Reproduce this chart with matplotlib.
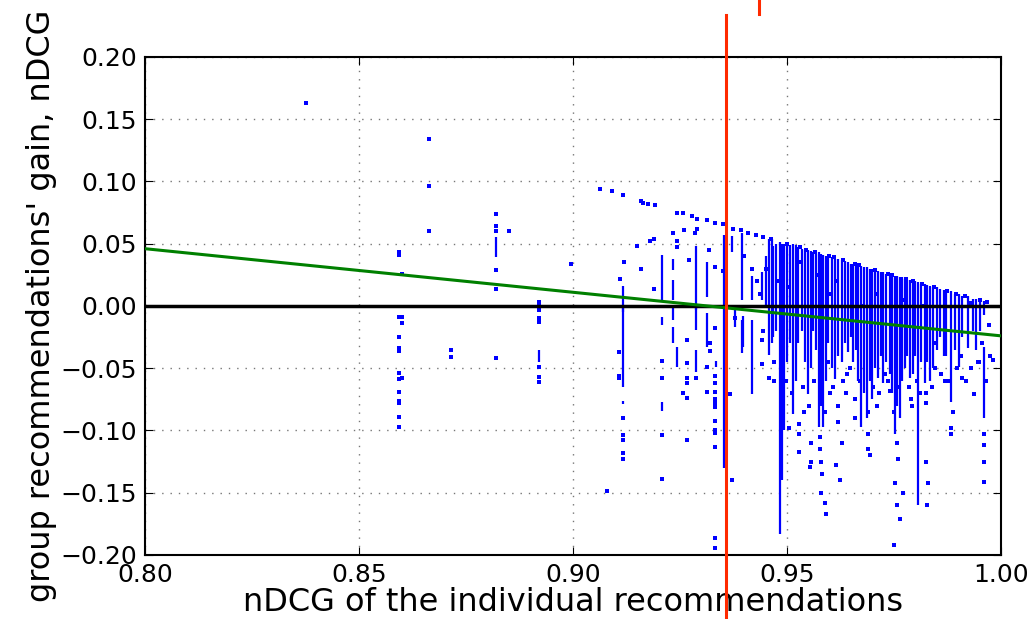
import numpy as np
import matplotlib
matplotlib.use("Agg")
import matplotlib.pyplot as plt

# isolated points (nDCG individual, gain of group recs)
dot_x = [0.8376, 0.8664, 0.8664, 0.8664,
         0.8593, 0.8593, 0.8600, 0.8593, 0.8600, 0.8600, 0.8593, 0.8593, 0.8593, 0.8593, 0.8593,
         0.8600, 0.8593, 0.8593, 0.8593, 0.8593, 0.8593,
         0.8714, 0.8714,
         0.8820, 0.8820, 0.8820, 0.8820, 0.8820, 0.8820, 0.8850,
         0.8920, 0.8920, 0.8920, 0.8920, 0.8920, 0.8920, 0.8920, 0.8920,
         0.8996,
         0.9063, 0.9091, 0.9117, 0.9159, 0.9163, 0.9175, 0.9192, 0.9243, 0.9257, 0.9278, 0.9290,
         0.9313, 0.9332, 0.9350,
         0.9234, 0.9260, 0.9285, 0.9290, 0.9180, 0.9190, 0.9150, 0.9243, 0.9243, 0.9120, 0.9110,
         0.9160, 0.9190, 0.9107, 0.9107, 0.9107, 0.9118, 0.9118, 0.9118, 0.9118, 0.9118, 0.9080,
         0.9207, 0.9207, 0.9207, 0.9207, 0.9267, 0.9267, 0.9267, 0.9267, 0.9258, 0.9267, 0.9267,
         0.9287, 0.9272, 0.9313, 0.9313, 0.9318, 0.9332, 0.9332, 0.9332, 0.9332, 0.9332, 0.9332,
         0.9332, 0.9332, 0.9332, 0.9332, 0.9332, 0.9332, 0.9332, 0.9332, 0.9350, 0.9320, 0.9320,
         0.9371, 0.9367,
         0.9375, 0.9392, 0.9410, 0.9428, 0.9445, 0.9462, 0.9500, 0.9530, 0.9545, 0.9565, 0.9598,
         0.9610, 0.9630, 0.9660, 0.9668, 0.9705, 0.9735, 0.9745, 0.9778, 0.9795, 0.9815, 0.9843,
         0.9875, 0.9895, 0.9915, 0.9950, 0.9968,
         0.9458, 0.9527, 0.9527, 0.9527, 0.9555, 0.9555, 0.9553, 0.9577, 0.9577, 0.9580, 0.9582,
         0.9580, 0.9590, 0.9592, 0.9620, 0.9620, 0.9628, 0.9615, 0.9625, 0.9690, 0.9690, 0.9695,
         0.9756, 0.9760, 0.9752, 0.9770, 0.9758, 0.9764, 0.9750, 0.9825, 0.9825, 0.9825, 0.9830,
         0.9828, 0.9884, 0.9884, 0.9938, 0.9960, 0.9960, 0.9960, 0.9960, 0.9981,
         0.9441, 0.9441, 0.9418, 0.9379, 0.9400, 0.9430, 0.9470, 0.9505, 0.9540, 0.9600, 0.9640,
         0.9660, 0.9710, 0.9740, 0.9790, 0.9845, 0.9870, 0.9910, 0.9975, 0.9930, 0.9948,
         0.9438, 0.9445, 0.9452, 0.9470, 0.9478, 0.9497, 0.9503, 0.9511, 0.9532, 0.9538, 0.9551,
         0.9563, 0.9571, 0.9588, 0.9595, 0.9601, 0.9608, 0.9616, 0.9631, 0.9639, 0.9647, 0.9659,
         0.9671, 0.9677, 0.9689, 0.9702, 0.9709, 0.9716, 0.9729, 0.9737, 0.9749, 0.9761, 0.9772,
         0.9784, 0.9791, 0.9803, 0.9811, 0.9819, 0.9838, 0.9846, 0.9861, 0.9869, 0.9878, 0.9889,
         0.9898, 0.9906, 0.9918, 0.9927, 0.9946, 0.9956, 0.9964, 0.9971]
dot_y = [0.163, 0.134, 0.096, 0.060,
         0.043, 0.041, 0.026, -0.009, -0.009, -0.014, -0.025, -0.034, -0.036, -0.054, -0.059,
         -0.058, -0.069, -0.076, -0.078, -0.089, -0.097,
         -0.035, -0.041,
         0.074, 0.064, 0.060, 0.029, 0.014, -0.042, 0.060,
         0.003, 0.000, -0.003, -0.010, -0.013, -0.049, -0.057, -0.061,
         0.034,
         0.094, 0.092, 0.089, 0.084, 0.083, 0.082, 0.081, 0.075, 0.075, 0.072, 0.070,
         0.069, 0.067, 0.066,
         0.059, 0.061, 0.0585, 0.062, 0.052, 0.054, 0.048, 0.052, 0.047, 0.035, 0.022,
         0.030, 0.014, -0.037, -0.056, -0.058, -0.090, -0.104, -0.108, -0.118, -0.123, -0.149,
         -0.044, -0.058, -0.104, -0.139, -0.027, -0.046, -0.058, -0.062, -0.070, -0.074, -0.108,
         -0.058, 0.037, -0.049, -0.069, 0.045, 0.031, -0.018, -0.056, -0.062, -0.069, -0.075,
         -0.078, -0.081, -0.092, -0.100, -0.102, -0.113, -0.186, -0.194, 0.028, -0.030, -0.036,
         -0.140, -0.071,
         0.062, 0.061, 0.059, 0.057, 0.055, 0.054, 0.050, 0.047, 0.045, 0.043, 0.040,
         0.039, 0.037, 0.034, 0.033, 0.029, 0.026, 0.025, 0.022, 0.020, 0.018, 0.015,
         0.012, 0.010, 0.008, 0.005, 0.003,
         -0.058, -0.095, -0.103, -0.117, -0.110, -0.125, -0.129, -0.105, -0.115, -0.125, -0.135,
         -0.150, -0.158, -0.167, -0.080, -0.093, -0.110, -0.128, -0.140, -0.103, -0.115, -0.120,
         -0.110, -0.123, -0.142, -0.150, -0.160, -0.171, -0.192, -0.070, -0.078, -0.125, -0.142,
         -0.160, -0.098, -0.103, -0.071, -0.103, -0.112, -0.125, -0.141, -0.043,
         -0.027, -0.047, 0.030, -0.010, 0.040, 0.020, -0.060, -0.098, -0.085, -0.070, -0.055,
         -0.075, -0.080, -0.068, -0.075, -0.050, -0.060, -0.058, -0.040, -0.050, -0.045,
         0.010, -0.020, 0.030, -0.045, 0.020, -0.060, 0.015, -0.070, 0.035, -0.065, -0.080,
         -0.060, 0.025, -0.085, -0.045, 0.010, -0.065, 0.020, -0.060, -0.070, -0.050, -0.090,
         -0.060, 0.000, -0.085, -0.065, 0.010, -0.070, -0.055, -0.060, -0.085, -0.065, 0.005,
         -0.065, -0.080, -0.060, -0.070, 0.000, -0.065, -0.030, -0.055, 0.005, -0.060, -0.085,
         -0.050, -0.040, -0.060, 0.002, -0.045, -0.030, -0.060, -0.015]

# dense vertical runs of points: x, top, bottom
streak_x = [0.8820, 0.8920,
            0.9118, 0.9118, 0.9118, 0.9207, 0.9207, 0.9207, 0.9234, 0.9234, 0.9234, 0.9234, 0.9243,
            0.9287, 0.9287, 0.9287, 0.9313, 0.9313, 0.9333, 0.9353,
            0.9371, 0.9394, 0.9394, 0.9398, 0.9418, 0.9418, 0.9441, 0.9379,
            0.9458, 0.9464, 0.9468, 0.9484, 0.9488, 0.9492, 0.9515, 0.9520, 0.9526,
            0.9548, 0.9555, 0.9560, 0.9575, 0.9580, 0.9585, 0.9592, 0.9612, 0.9620, 0.9628,
            0.9635, 0.9643, 0.9650, 0.9655, 0.9674, 0.9680, 0.9686, 0.9693, 0.9698,
            0.9713, 0.9720, 0.9725, 0.9752, 0.9758, 0.9764, 0.9768, 0.9787, 0.9800, 0.9806,
            0.9822, 0.9828, 0.9834, 0.9850, 0.9857, 0.9866, 0.9884, 0.9902, 0.9923, 0.9935,
            0.9942, 0.9960, 0.9960,
            0.9450, 0.9475, 0.9500, 0.9507, 0.9535, 0.9542, 0.9567, 0.9597, 0.9605, 0.9662,
            0.9667, 0.9705, 0.9732, 0.9740, 0.9745, 0.9775, 0.9781, 0.9794, 0.9813, 0.9842,
            0.9872, 0.9893, 0.9910, 0.9952]
streak_top = [0.055, -0.035,
              0.016, -0.001, -0.076, 0.041, -0.009, -0.077, 0.038, 0.021, -0.002, -0.017, -0.033,
              0.048, -0.001, -0.035, 0.035, -0.006, -0.044, 0.057,
              0.056, 0.059, -0.011, -0.008, 0.024, -0.011, 0.027, -0.001,
              0.054, 0.054, 0.048, 0.051, 0.050, 0.050, 0.050, 0.049, 0.047,
              0.045, 0.044, 0.043, 0.043, 0.042, 0.041, 0.040, 0.038, 0.038, 0.037,
              0.036, 0.035, 0.034, 0.034, 0.032, 0.031, 0.031, 0.030, 0.030,
              0.028, 0.027, 0.027, 0.024, 0.024, 0.023, 0.023, 0.021, 0.020, 0.019,
              0.018, 0.017, 0.016, 0.015, 0.014, 0.013, 0.012, 0.010, 0.008, 0.006,
              0.006, 0.004, -0.033,
              0.040, 0.050, 0.048, 0.049, 0.046, 0.045, 0.042, 0.040, 0.039, 0.033,
              0.033, 0.029, 0.026, 0.025, 0.025, 0.022, 0.021, 0.020, 0.018, 0.015,
              0.012, 0.010, 0.008, 0.004]
streak_bottom = [0.039, -0.045,
                 -0.005, -0.065, -0.079, 0.005, -0.015, -0.084, 0.029, 0.005, -0.011, -0.030, -0.049,
                 -0.003, -0.019, -0.053, 0.007, -0.033, -0.049, -0.130,
                 0.043, 0.005, -0.038, -0.033, 0.005, -0.071, 0.005, -0.017,
                 -0.039, -0.030, -0.025, -0.183, -0.140, -0.100, -0.087, -0.060, -0.030,
                 -0.071, -0.050, -0.020, -0.097, -0.080, -0.097, -0.060, -0.059, -0.040, -0.045,
                 -0.030, -0.037, -0.025, -0.045, -0.097, -0.070, -0.090, -0.060, -0.075,
                 -0.058, -0.040, -0.062, -0.103, -0.080, -0.090, -0.060, -0.058, -0.040, -0.160,
                 -0.062, -0.045, -0.060, -0.035, -0.025, -0.040, -0.077, -0.049, -0.034, -0.020,
                 -0.035, -0.007, -0.090,
                 0.000, -0.020, -0.045, -0.030, -0.020, -0.045, -0.035, -0.030, -0.050, -0.035,
                 -0.060, -0.050, -0.045, -0.055, -0.070, -0.050, -0.040, -0.055, -0.045, -0.050,
                 -0.040, -0.035, -0.025, -0.020]

# linear fit and threshold
fit_x = [0.80, 1.00]
fit_y = [0.046, -0.024]
threshold = 0.9357
artifact_x = 0.9435

xticks = [0.80, 0.85, 0.90, 0.95, 1.00]
yticks = [-0.20, -0.15, -0.10, -0.05, 0.00, 0.05, 0.10, 0.15, 0.20]

fig = plt.figure(figsize=(10.3, 6.19), dpi=100)
ax = fig.add_axes([0.1408, 0.1034, 0.831, 0.8046])

ax.vlines(streak_x, streak_bottom, streak_top, colors="blue", linewidth=1.6, zorder=2)
ax.scatter(dot_x, dot_y, s=5, marker="s", c="blue", linewidths=0, zorder=2)
ax.axhline(0, color="black", linewidth=2.5, zorder=3)
ax.plot(fit_x, fit_y, color="#008000", linewidth=2.2, zorder=4)
ax.axvline(threshold, ymin=-0.13, ymax=1.084, color="#ff2a00", linewidth=2.2,
           clip_on=False, zorder=5)
ax.axvline(artifact_x, ymin=1.086, ymax=1.12, color="#ff2a00", linewidth=2.2,
           clip_on=False, zorder=5)

ax.set_xlim(0.80, 1.00)
ax.set_ylim(-0.20, 0.20)
ax.set_xticks(xticks)
ax.set_yticks(yticks)
ax.set_xticklabels(["%.2f" % v for v in xticks])
ax.set_yticklabels([("%.2f" % v).replace("-", "\u2212") for v in yticks])
ax.grid(True, color="#777777", linestyle=(0, (1, 5)), linewidth=1.0)
ax.set_axisbelow(True)
ax.tick_params(direction="in", top=True, right=True, length=6, labelsize=18, pad=6)
for sp in ax.spines.values():
    sp.set_linewidth(1.5)

ax.set_xlabel("nDCG of the individual recommendations", fontsize=23, labelpad=0)
ax.set_ylabel("group recommendations' gain, nDCG", fontsize=23, labelpad=2)

fig.savefig("out.png", dpi=100)
